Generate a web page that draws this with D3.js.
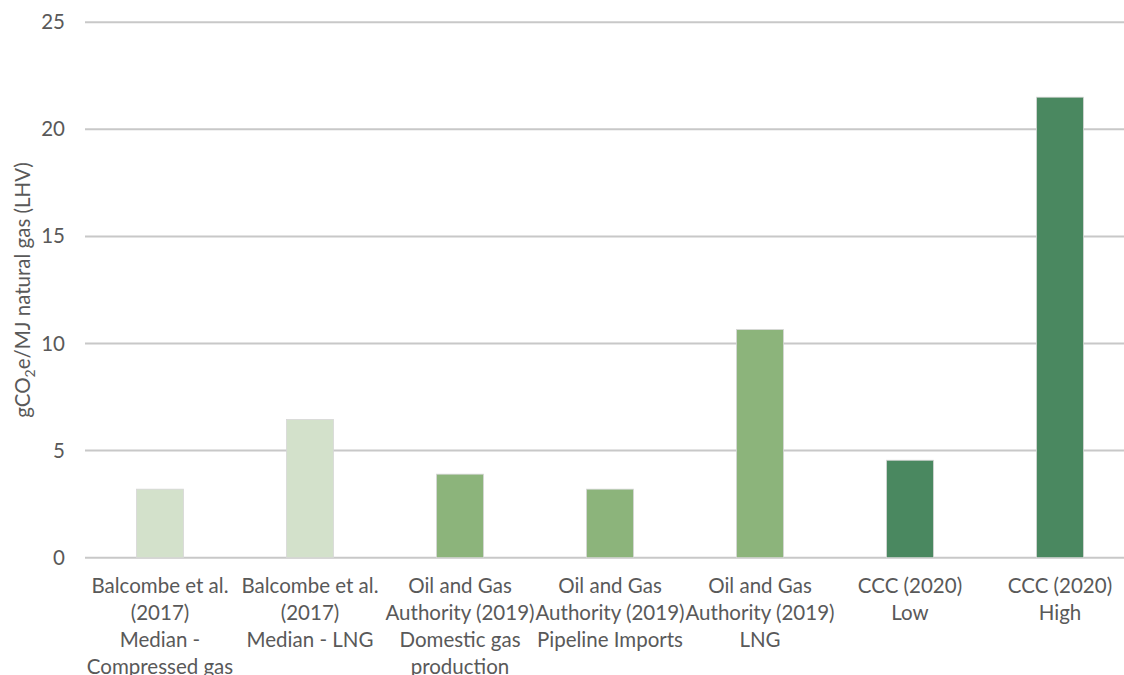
<!DOCTYPE html>
<html>
<head>
<meta charset="utf-8">
<script src="https://cdn.jsdelivr.net/npm/d3@7"></script>
<style>
  html, body { margin: 0; padding: 0; background: #fff; }
  svg { display: block; }
  text { font-family: Lato, "Open Sans", sans-serif; fill: #595959; }
</style>
</head>
<body>
<svg id="chart" width="1124" height="675"></svg>
<script>
// Upstream emission estimates for natural gas supply, gCO2e per MJ (LHV)
const categories = [
  "Balcombe et al. (2017) Median - Compressed gas",
  "Balcombe et al. (2017) Median - LNG",
  "Oil and Gas Authority (2019) Domestic gas production",
  "Oil and Gas Authority (2019) Pipeline Imports",
  "Oil and Gas Authority (2019) LNG",
  "CCC (2020) Low",
  "CCC (2020) High"
];
const categoryLines = [
  ["Balcombe et al.", "(2017)", "Median -", "Compressed gas"],
  ["Balcombe et al.", "(2017)", "Median - LNG"],
  ["Oil and Gas", "Authority (2019)", "Domestic gas", "production"],
  ["Oil and Gas", "Authority (2019)", "Pipeline Imports"],
  ["Oil and Gas", "Authority (2019)", "LNG"],
  ["CCC (2020)", "Low"],
  ["CCC (2020)", "High"]
];
const sources = ["Balcombe", "Balcombe", "OGA", "OGA", "OGA", "CCC", "CCC"];
const values = [3.2, 6.45, 3.9, 3.2, 10.65, 4.55, 21.5];
const yTicks = [0, 5, 10, 15, 20, 25];

const sourceColor = d3.scaleOrdinal()
  .domain(["Balcombe", "OGA", "CCC"])
  .range(["#d3e1cb", "#8cb47b", "#4a8860"]);

const svg = d3.select("#chart");
const plotLeft = 85, plotRight = 1135, plotTop = 22.2, plotBottom = 557.7;
const fontSize = "20.5px";

const x = d3.scaleBand()
  .domain(categories)
  .range([plotLeft, plotRight])
  .paddingInner(0.687)
  .paddingOuter(0.3435);

const y = d3.scaleLinear().domain([0, 25]).range([plotBottom, plotTop]);

// gridlines
svg.append("g")
  .selectAll("line")
  .data(yTicks)
  .join("line")
  .attr("x1", plotLeft)
  .attr("x2", 1124)
  .attr("y1", d => y(d))
  .attr("y2", d => y(d))
  .attr("stroke", "#c8c8c8")
  .attr("stroke-width", 2);

// y axis tick labels
const yAxis = d3.axisLeft(y).tickValues(yTicks).tickSize(0).tickPadding(0);
const gy = svg.append("g").attr("transform", `translate(${plotLeft - 20},0)`).call(yAxis);
gy.select(".domain").remove();
gy.selectAll("text")
  .style("font-family", "Lato, 'Open Sans', sans-serif")
  .style("font-size", fontSize)
  .attr("fill", "#595959");

// bars
svg.append("g")
  .selectAll("rect")
  .data(values)
  .join("rect")
  .attr("x", (d, i) => x(categories[i]))
  .attr("width", x.bandwidth())
  .attr("y", d => y(d))
  .attr("height", d => y(0) - y(d))
  .attr("fill", (d, i) => sourceColor(sources[i]))
  .attr("stroke", "#d6d6d6")
  .attr("stroke-width", 0.8);

// x axis labels (wrapped)
const xl = svg.append("g");
categories.forEach((c, i) => {
  const cx = x(c) + x.bandwidth() / 2;
  const t = xl.append("text")
    .attr("text-anchor", "middle")
    .attr("font-size", fontSize)
    .attr("x", cx)
    .attr("y", 593);
  categoryLines[i].forEach((line, j) => {
    t.append("tspan")
      .attr("x", cx)
      .attr("y", 593 + j * 27)
      .text(line);
  });
});

// y axis title
const yt = svg.append("text")
  .attr("transform", "translate(30,290) rotate(-90)")
  .attr("text-anchor", "middle")
  .attr("font-size", fontSize);
yt.append("tspan").text("gCO");
yt.append("tspan").attr("font-size", "14px").attr("dy", 5).text("2");
yt.append("tspan").attr("dy", -5).text("e/MJ natural gas (LHV)");
</script>
</body>
</html>
